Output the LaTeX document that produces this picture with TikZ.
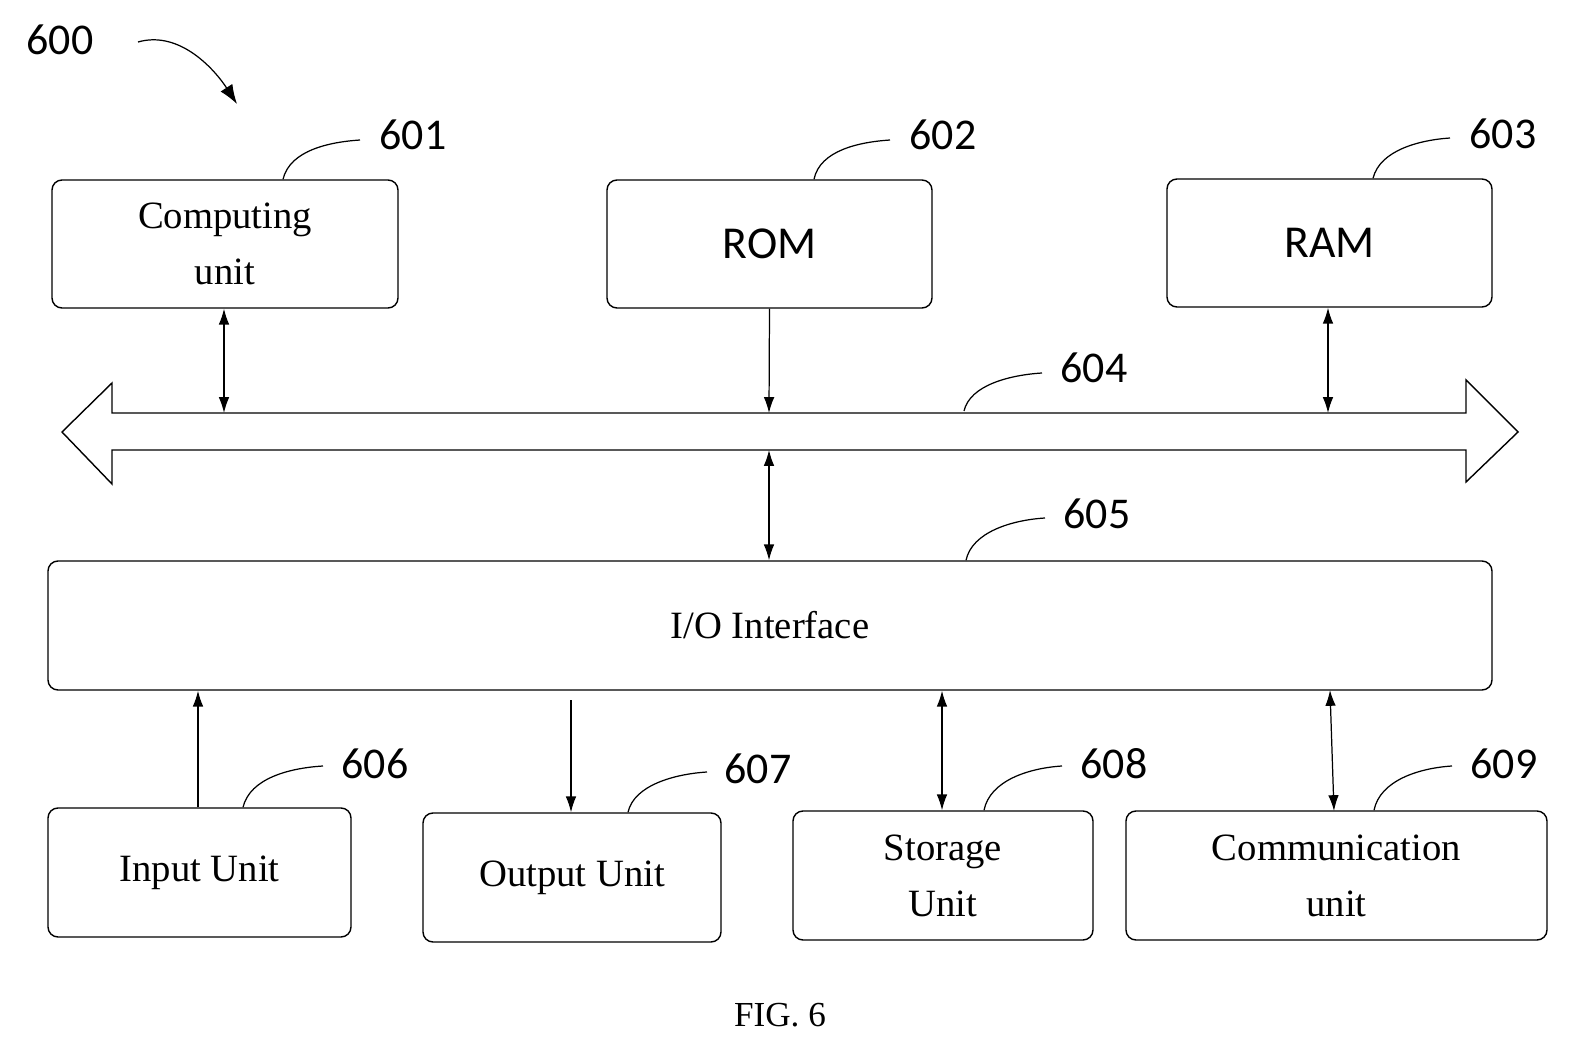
\documentclass[tikz,border=0pt]{standalone}
\usepackage{fontspec}
\setmainfont{Liberation Serif}
\newfontfamily\lab{Carlito}
\usetikzlibrary{arrows.meta}
\begin{document}
\begin{tikzpicture}[x=0.02cm,y=-0.02cm,
 box/.style={draw,line width=0.8pt,rounded corners=0.2cm,align=center,inner sep=0},
 bt/.style={font=\fontsize{22}{32}\selectfont},
 lb/.style={font=\lab\fontsize{25}{28}\selectfont},
 arr/.style={-{Latex[length=9pt,width=6pt]},line width=0.7pt},
 darr/.style={{Latex[length=9pt,width=6pt]}-{Latex[length=9pt,width=6pt]},line width=0.7pt},
 ld/.style={line width=0.7pt}]
\useasboundingbox (0,0) rectangle (1573,1054);
\node[box,minimum width=346*0.02cm,minimum height=128*0.02cm,bt] (cu) at (225,244) {Computing\\unit};
\node[box,minimum width=325*0.02cm,minimum height=128*0.02cm,font=\lab\fontsize{26}{30}\selectfont] (rom) at (769.5,244) {ROM};
\node[box,minimum width=325*0.02cm,minimum height=128*0.02cm,font=\lab\fontsize{26}{30}\selectfont] (ram) at (1329.5,243) {RAM};
\node[box,minimum width=1444*0.02cm,minimum height=129*0.02cm,bt] (io) at (770,625.5) {I/O Interface};
\node[box,minimum width=303*0.02cm,minimum height=129*0.02cm,bt] (in) at (199.5,872.5) {Input Unit};
\node[box,minimum width=298*0.02cm,minimum height=129*0.02cm,bt] (out) at (572,877.5) {Output Unit};
\node[box,minimum width=300*0.02cm,minimum height=129*0.02cm,bt] (st) at (943,875.5) {Storage\\Unit};
\node[box,minimum width=421*0.02cm,minimum height=129*0.02cm,bt] (cm) at (1336.5,875.5) {Communication\\unit};
% bus
\draw[line width=0.8pt] (62,432) -- (112,383) -- (112,413) -- (1466,413) -- (1466,380) -- (1518,432) -- (1466,482) -- (1466,450) -- (112,450) -- (112,484) -- cycle;
\coordinate (bt1) at (224,413); \coordinate (bt2) at (769,413); \coordinate (bt3) at (1328,413); \coordinate (bb) at (769,450);
\draw[darr] (cu.south -| bt1) -- (bt1);
\draw[arr] (rom.south) -- (bt2);
\draw[darr] (ram.south -| bt3) -- (bt3);
\draw[darr] (bb) -- (io.north -| bb);
\draw[arr] (in.north -| 198,0) -- (io.south -| 198,0);
\coordinate (o1) at (571,700);
\draw[arr] (o1) -- (out.north -| o1);
\draw[darr] (io.south -| 942,0) -- (st.north -| 942,0);
\coordinate (c1) at (1330,690); \coordinate (c2) at (1334,811);
\draw[darr] (c1) -- (c2);
% labels
\node[lb] (l600) at (60,40) {600};
\coordinate (a0) at (138,42); \coordinate (a1) at (237,104);
\draw[-{Latex[length=11pt,width=8pt]},line width=0.7pt] (a0) .. controls (180,30) and (215,70) .. (a1);
\node[lb] (l601) at (413,135) {601};
\draw[ld] (cu.north -| 283,0) .. controls (290,150) and (330,142) .. (360,140);
\node[lb] (l602) at (943,135) {602};
\draw[ld] (rom.north -| 814,0) .. controls (820,150) and (860,142) .. (890,140);
\node[lb] (l603) at (1503,134) {603};
\draw[ld] (ram.north -| 1373,0) .. controls (1380,150) and (1420,140) .. (1450,138);
\node[lb] (l604) at (1094,368) {604};
\draw[ld] (964,411) .. controls (970,385) and (1010,375) .. (1042,373);
\node[lb] (l605) at (1097,514) {605};
\draw[ld] (io.north -| 966,0) .. controls (972,532) and (1012,520) .. (1045,518);
\node[lb] (l606) at (375,764) {606};
\draw[ld] (in.north -| 243,0) .. controls (250,778) and (290,768) .. (323,766);
\node[lb] (l607) at (758,769) {607};
\draw[ld] (out.north -| 628,0) .. controls (634,785) and (675,774) .. (707,772);
\node[lb] (l608) at (1114,764) {608};
\draw[ld] (st.north -| 984,0) .. controls (990,780) and (1030,768) .. (1062,766);
\node[lb] (l609) at (1504,764) {609};
\draw[ld] (cm.north -| 1374,0) .. controls (1380,780) and (1420,768) .. (1452,766);
\node[font=\fontsize{20}{24}\selectfont] (fig) at (780,1015) {FIG. 6};
\end{tikzpicture}
\end{document}
